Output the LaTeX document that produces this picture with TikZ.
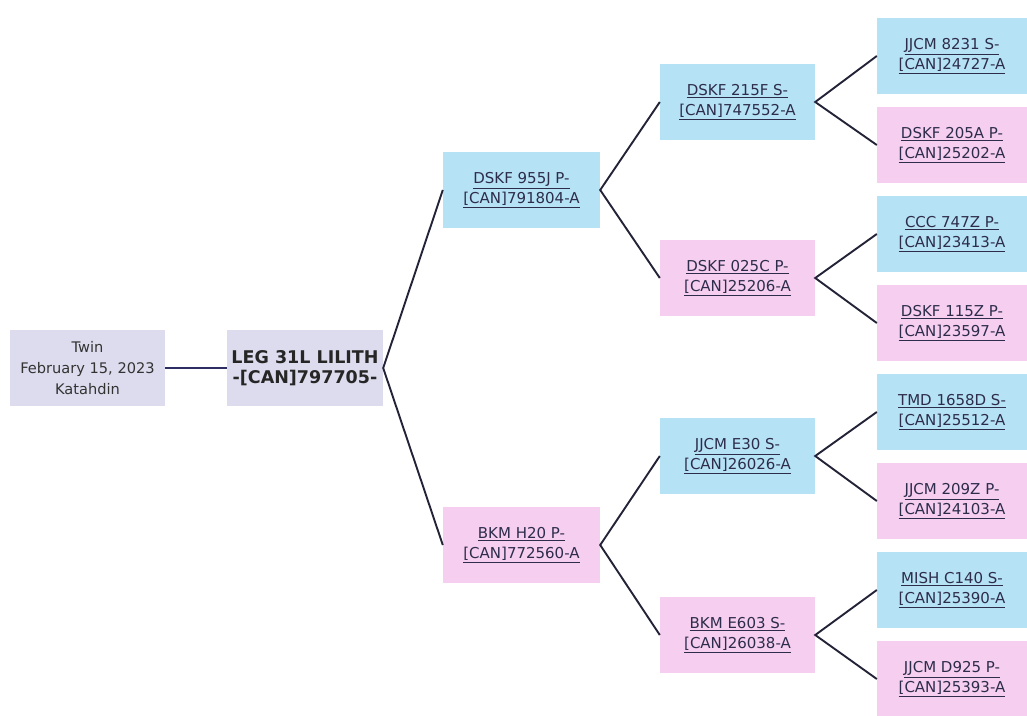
\documentclass[tikz,border=0pt]{standalone}
\usepackage{fontspec}
\setmainfont{DejaVu Sans}
\definecolor{bluebox}{RGB}{182,226,245}
\definecolor{pinkbox}{RGB}{246,206,240}
\definecolor{lavbox}{RGB}{220,220,238}
\definecolor{txt}{RGB}{45,45,75}
\definecolor{edge}{RGB}{35,35,55}
\definecolor{navyedge}{RGB}{45,45,100}
\newcommand{\twoline}[2]{\underline{#1}\\\underline{#2}}
\begin{document}
\begin{tikzpicture}[x=1pt,y=-1pt,
  box/.style={inner sep=0pt, minimum height=76pt, align=center, text=txt,
    font=\fontsize{15}{19.5}\selectfont},
  c2/.style={box, minimum width=157pt},
  c3/.style={box, minimum width=155pt},
  c4/.style={box, minimum width=150pt},
  bl/.style={fill=bluebox},
  pk/.style={fill=pinkbox},
  conn/.style={draw=edge, line width=1.9pt}]
\useasboundingbox (0,0) rectangle (1027,715);
% root and twin
\node[box, fill=lavbox, minimum width=155pt, font=\fontsize{14.6}{21}\selectfont, text=black!80] (twin) at (87.5,368) {Twin\\February 15, 2023\\Katahdin};
\node[box, fill=lavbox, minimum width=156pt, font=\bfseries\fontsize{17.5}{19.5}\selectfont, text=black!85] (leg) at (305,368) {LEG 31L LILITH\\-[CAN]797705-};
% column 2
\node[c2, bl] (a1) at (521.5,190) {\twoline{DSKF 955J P-}{[CAN]791804-A}};
\node[c2, pk] (a2) at (521.5,545) {\twoline{BKM H20 P-}{[CAN]772560-A}};
% column 3
\node[c3, bl] (b1) at (737.5,102) {\twoline{DSKF 215F S-}{[CAN]747552-A}};
\node[c3, pk] (b2) at (737.5,278) {\twoline{DSKF 025C P-}{[CAN]25206-A}};
\node[c3, bl] (b3) at (737.5,456) {\twoline{JJCM E30 S-}{[CAN]26026-A}};
\node[c3, pk] (b4) at (737.5,635) {\twoline{BKM E603 S-}{[CAN]26038-A}};
% column 4
\node[c4, bl] (c1) at (952,56) {\twoline{JJCM 8231 S-}{[CAN]24727-A}};
\node[c4, pk] (c2) at (952,145) {\twoline{DSKF 205A P-}{[CAN]25202-A}};
\node[c4, bl] (c3) at (952,234) {\twoline{CCC 747Z P-}{[CAN]23413-A}};
\node[c4, pk] (c4) at (952,323) {\twoline{DSKF 115Z P-}{[CAN]23597-A}};
\node[c4, bl] (c5) at (952,412) {\twoline{TMD 1658D S-}{[CAN]25512-A}};
\node[c4, pk] (c6) at (952,501) {\twoline{JJCM 209Z P-}{[CAN]24103-A}};
\node[c4, bl] (c7) at (952,590) {\twoline{MISH C140 S-}{[CAN]25390-A}};
\node[c4, pk] (c8) at (952,679) {\twoline{JJCM D925 P-}{[CAN]25393-A}};
% connectors
\draw[draw=navyedge, line width=1.9pt] (twin.east) -- (leg.west);
\draw[conn] (a1.west) -- (leg.east) -- (a2.west);
\draw[conn] (b1.west) -- (a1.east) -- (b2.west);
\draw[conn] (b3.west) -- (a2.east) -- (b4.west);
\draw[conn] (c1.west) -- (b1.east) -- (c2.west);
\draw[conn] (c3.west) -- (b2.east) -- (c4.west);
\draw[conn] (c5.west) -- (b3.east) -- (c6.west);
\draw[conn] (c7.west) -- (b4.east) -- (c8.west);
\end{tikzpicture}
\end{document}
